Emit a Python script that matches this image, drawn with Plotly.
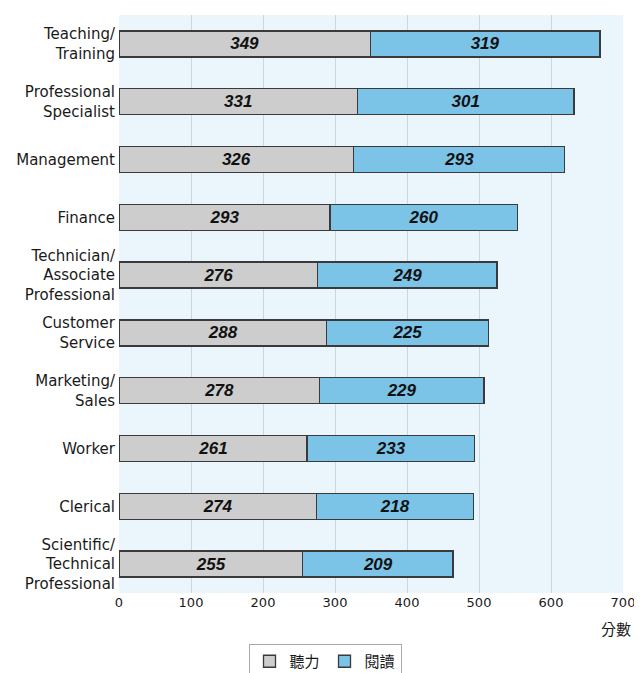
import plotly.graph_objects as go

categories = [
    "Teaching/<br>Training",
    "Professional<br>Specialist",
    "Management",
    "Finance",
    "Technician/<br>Associate<br>Professional",
    "Customer<br>Service",
    "Marketing/<br>Sales",
    "Worker",
    "Clerical",
    "Scientific/<br>Technical<br>Professional",
]
listening = [349, 331, 326, 293, 276, 288, 278, 261, 274, 255]
reading = [319, 301, 293, 260, 249, 225, 229, 233, 218, 209]
series_names = ["聽力", "閱讀"]
x_ticks = [0, 100, 200, 300, 400, 500, 600, 700]

label_font = dict(family="Liberation Sans, Arial, sans-serif", size=17, color="#111111",
                  weight="bold", style="italic")

fig = go.Figure()
fig.add_trace(go.Bar(
    y=categories, x=listening, orientation="h", name=series_names[0],
    marker=dict(color="#cdcdcd", line=dict(color="#3a3a3a", width=1.3)),
    text=listening, textposition="inside", insidetextanchor="middle",
    textfont=label_font, width=0.45, constraintext="none",
))
fig.add_trace(go.Bar(
    y=categories, x=reading, orientation="h", name=series_names[1],
    marker=dict(color="#7cc3e8", line=dict(color="#3a3a3a", width=1.3)),
    text=reading, textposition="inside", insidetextanchor="middle",
    textfont=label_font, width=0.45, constraintext="none",
))

H = 665
fig.update_layout(
    barmode="stack",
    width=634, height=H,
    margin=dict(l=111, r=19, t=7, b=80, autoexpand=False),
    paper_bgcolor="white",
    plot_bgcolor="#eaf5fc",
    font=dict(family="DejaVu Sans, sans-serif", size=15, color="#1a1a1a"),
    showlegend=True,
    legend=dict(
        orientation="h", xref="container", yref="container",
        x=0.5, xanchor="center", y=(H - 636) / H, yanchor="top",
        bordercolor="#aaaaaa", borderwidth=1, bgcolor="white",
        font=dict(family="Noto Sans CJK TC, sans-serif", size=15, color="#1a1a1a"),
        traceorder="normal", itemwidth=30,
    ),
    xaxis=dict(
        range=[0, 700], tickvals=x_ticks, ticktext=[str(v) for v in x_ticks],
        showgrid=True, gridcolor="#cbd6de", gridwidth=1,
        zeroline=False, showline=False,
        tickfont=dict(family="DejaVu Sans, sans-serif", size=13, color="#1a1a1a"),
    ),
    yaxis=dict(
        autorange="reversed", showgrid=False, showline=False,
        tickfont=dict(family="DejaVu Sans, sans-serif", size=15, color="#1a1a1a"),
        ticks="", ticklabelstandoff=3,
    ),
    annotations=[dict(
        text="分數", xref="paper", yref="paper", x=1.02, y=-0.061,
        xanchor="right", yanchor="middle", showarrow=False,
        font=dict(family="Noto Sans CJK TC, sans-serif", size=15, color="#1a1a1a"),
    )],
)

fig.write_html("out.html")
